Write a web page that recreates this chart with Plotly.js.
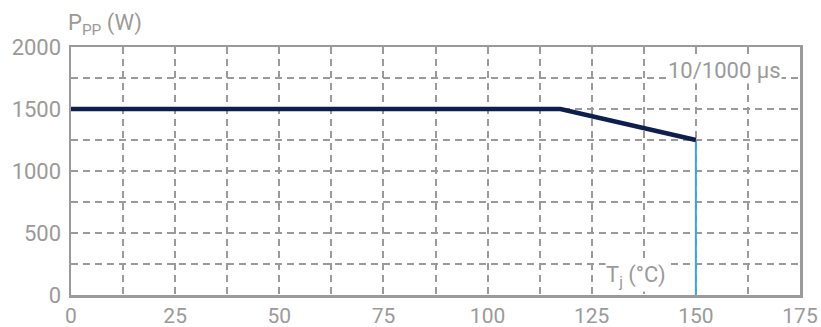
<!DOCTYPE html>
<html><head><meta charset="utf-8">
<script src="https://cdn.plot.ly/plotly-3.0.1.min.js"></script>
<style>body{margin:0}#c{width:821px;height:327px}</style>
</head><body><div id="c"></div>
<script>
const tempC = [0, 117.5, 150];
const powerW = [1500, 1500, 1250];
const cutoffX = [150, 150];
const cutoffY = [0, 1250];
const xTicks = [0, 25, 50, 75, 100, 125, 150, 175];
const yTicks = [0, 500, 1000, 1500, 2000];

const FONT = 'Roboto, "Liberation Sans", sans-serif';
const GRAY = '#9a9a9a';

const traces = [
  {x: cutoffX, y: cutoffY, mode: 'lines', line: {color: '#3aa6df', width: 2}, hoverinfo: 'skip'},
  {x: tempC, y: powerW, mode: 'lines', line: {color: '#0e1f4d', width: 4.5}, hoverinfo: 'skip'}
];

const axisCommon = {
  showline: true, linecolor: GRAY, linewidth: 2.5, mirror: true,
  gridcolor: GRAY, gridwidth: 2, griddash: '7px,5px',
  zeroline: false, ticks: '', tickfont: {family: FONT, size: 22, color: GRAY},
  fixedrange: true
};

const layout = {
  width: 821, height: 327,
  margin: {l: 71, r: 21, t: 47, b: 32},
  paper_bgcolor: 'white', plot_bgcolor: 'white',
  showlegend: false,
  xaxis: Object.assign({}, axisCommon, {
    range: [0, 175], tickvals: xTicks, ticktext: xTicks.map(String),
    tickfont: {family: FONT, size: 21, color: GRAY},
    minor: {dtick: 12.5, tick0: 0, showgrid: true, gridcolor: GRAY, gridwidth: 2, griddash: '7px,5px'},
    ticklabelstandoff: 0
  }),
  yaxis: Object.assign({}, axisCommon, {
    range: [0, 2000], tickvals: yTicks, ticktext: yTicks.map(String),
    minor: {dtick: 250, tick0: 0, showgrid: true, gridcolor: GRAY, gridwidth: 2, griddash: '7px,5px'},
    ticklabelstandoff: 3
  }),
  annotations: [
    {xref: 'paper', yref: 'paper', x: -0.007, y: 1.0, yshift: 6, xanchor: 'left', yanchor: 'bottom',
     text: 'P<sub>PP</sub> (W)', showarrow: false, font: {family: FONT, size: 22, color: GRAY}},
    {xref: 'x', yref: 'y', x: 156.8, y: 1810, xanchor: 'center', yanchor: 'middle',
     text: '10/1000 µs', showarrow: false, bgcolor: 'white', borderpad: 0,
     font: {family: FONT, size: 22, color: GRAY}},
    {xref: 'x', yref: 'y', x: 135.6, y: 150, xanchor: 'center', yanchor: 'middle',
     text: 'T<sub>j</sub> (°C)', showarrow: false, bgcolor: 'white', borderpad: 0,
     font: {family: FONT, size: 22, color: GRAY}}
  ]
};

Plotly.newPlot('c', traces, layout, {staticPlot: true});
</script></body></html>
